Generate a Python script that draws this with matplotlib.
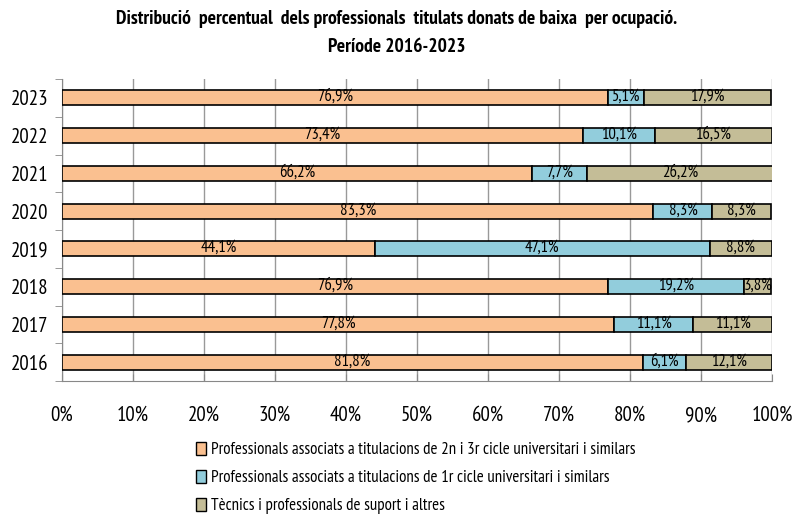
import matplotlib
matplotlib.use("Agg")
import matplotlib.pyplot as plt
from matplotlib import font_manager as fm
from matplotlib.patches import Patch

names = {f.name for f in fm.fontManager.ttflist}
main = next((n for n in ['PT Sans Narrow', 'Archivo Narrow', 'Carlito'] if n in names), 'DejaVu Sans')
plt.rcParams['font.family'] = [main, 'DejaVu Sans']

years = ['2016', '2017', '2018', '2019', '2020', '2021', '2022', '2023']
s1 = [81.8, 77.8, 76.9, 44.1, 83.3, 66.2, 73.4, 76.9]
s2 = [6.1, 11.1, 19.2, 47.1, 8.3, 7.7, 10.1, 5.1]
s3 = [12.1, 11.1, 3.8, 8.8, 8.3, 26.2, 16.5, 17.9]
series_names = ['Professionals associats a titulacions de 2n i 3r cicle universitari i similars',
                'Professionals associats a titulacions de 1r cicle universitari i similars',
                'Tècnics i professionals de suport i altres']
colors = ['#FAC090', '#92CDDC', '#C4BD97']

fig = plt.figure(figsize=(7.93, 5.20), dpi=100)
ax = fig.add_axes([62/793, 1-381/520, (772-62)/793, (381-79)/520])

y = range(len(years))
left = [0]*len(years)
for vals, c in zip([s1, s2, s3], colors):
    ax.barh(y, vals, left=left, height=0.4, color=c, edgecolor='black', linewidth=1.2, zorder=3)
    for yi, l, v in zip(y, left, vals):
        ax.text(l + v/2, yi + 0.02, f"{v:.1f}%".replace('.', ','), ha='center', va='center',
                fontsize=12, zorder=4)
    left = [a+b for a, b in zip(left, vals)]

ax.set_xlim(0, 100)
ax.set_ylim(-0.5, len(years)-0.5)
ax.set_xticks(range(0, 101, 10))
ax.set_xticklabels([f"{v}%" for v in range(0, 101, 10)], fontsize=15)
ax.set_yticks(list(y))
ax.set_yticklabels(years, fontsize=15)
ax.tick_params(axis='y', length=0, pad=10)
ax.tick_params(axis='x', length=5, color='#888888', pad=18, direction='in')
ax.set_yticks([i-0.5 for i in range(len(years)+1)], minor=True)
ax.tick_params(axis='y', which='minor', length=5, color='#888888', direction='out')
ax.grid(axis='x', color='#999999', linewidth=1, zorder=0)
for s in ['top', 'right']:
    ax.spines[s].set_visible(False)
ax.spines['left'].set_color('#888888')
ax.spines['bottom'].set_color('#888888')

fig.text(0.5, 1-19/520, 'Distribució  percentual  dels professionals  titulats donats de baixa  per ocupació.',
         ha='center', va='center', fontsize=14, fontweight='bold')
fig.text(0.5, 1-47/520, 'Període 2016-2023', ha='center', va='center', fontsize=14, fontweight='bold')

handles = [Patch(facecolor=c, edgecolor='black', linewidth=1) for c in colors]
fig.legend(handles, series_names, loc='upper left', bbox_to_anchor=(196/793, 1-442/520),
           frameon=False, fontsize=12.2, handlelength=0.6, handleheight=0.8, handletextpad=0.3,
           labelspacing=0.68, borderpad=0, borderaxespad=0)

fig.savefig('out.png', dpi=100)
